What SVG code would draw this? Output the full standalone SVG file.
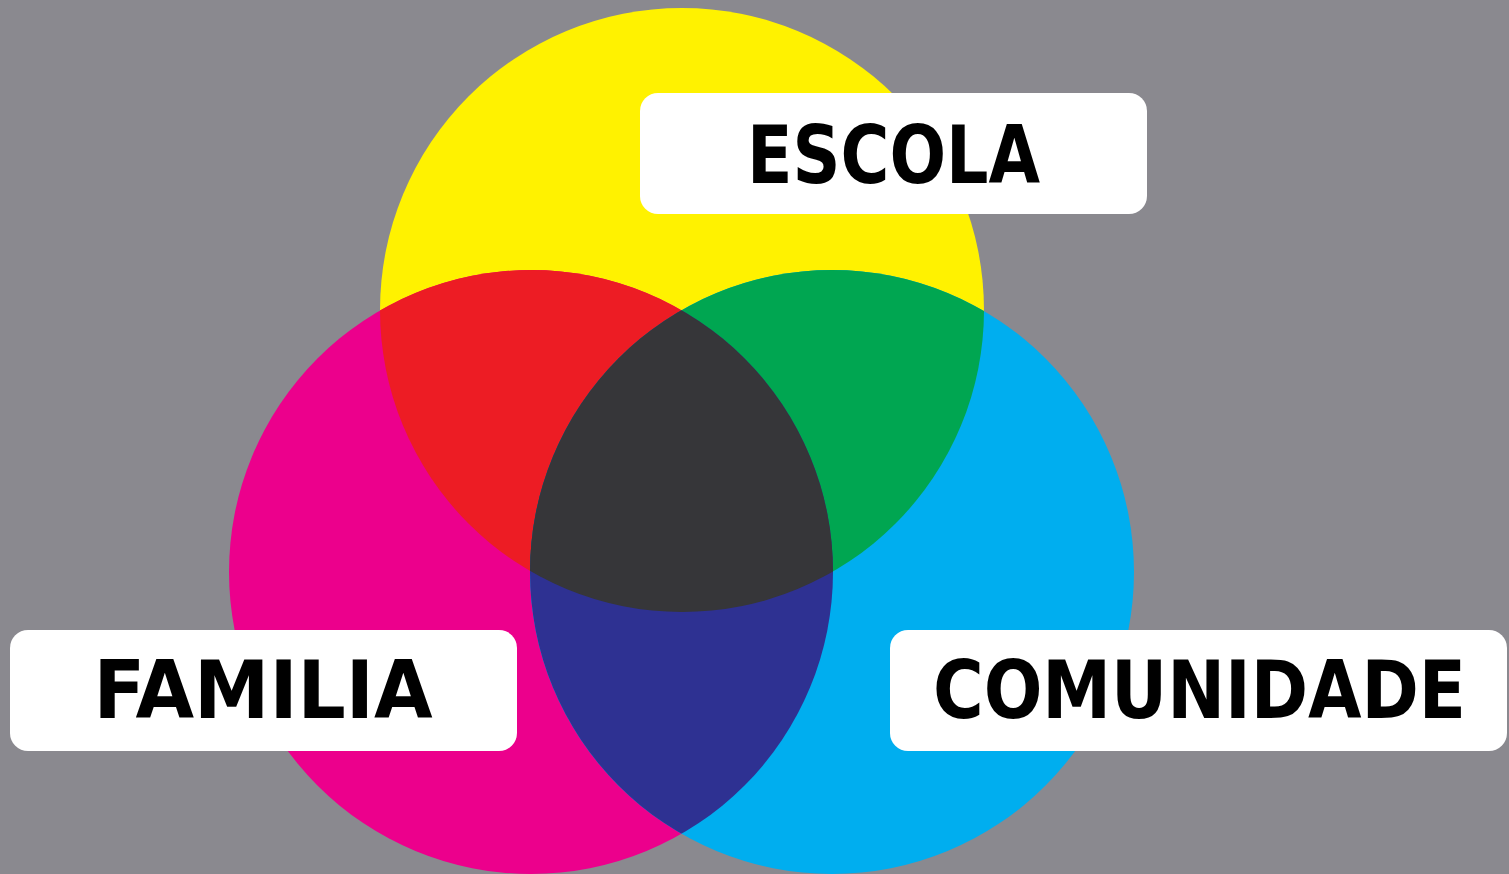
<svg xmlns="http://www.w3.org/2000/svg" width="1509" height="874" viewBox="0 0 1509 874">
  <style>
    .box { fill: #ffffff; }
    .lbl { font-family: "DejaVu Sans Condensed", "DejaVu Sans", sans-serif; font-weight: bold; font-size: 80px; fill: #000000; text-anchor: middle; }
  </style>
  <defs>
    <clipPath id="cY"><circle cx="682" cy="310" r="302"/></clipPath>
    <clipPath id="cM"><circle cx="531" cy="572" r="302"/></clipPath>
  </defs>
  <rect width="1509" height="874" fill="#8a898f"/>
  <g id="circles">
    <circle id="escola-circle" cx="682" cy="310" r="302" fill="#fff200"/>
    <circle id="familia-circle" cx="531" cy="572" r="302" fill="#ec008c"/>
    <circle id="comunidade-circle" cx="832" cy="572" r="302" fill="#00aeef"/>
    <g clip-path="url(#cY)">
      <circle cx="531" cy="572" r="302" fill="#ed1c24"/>
      <circle cx="832" cy="572" r="302" fill="#00a651"/>
    </g>
    <g clip-path="url(#cM)">
      <circle cx="832" cy="572" r="302" fill="#2e3192"/>
      <g clip-path="url(#cY)">
        <circle cx="832" cy="572" r="302" fill="#363639"/>
      </g>
    </g>
  </g>
  <g id="escola">
    <rect class="box" x="640" y="93" width="507" height="121" rx="18"/>
    <text class="lbl" x="893.5" y="183" textLength="293" lengthAdjust="spacingAndGlyphs">ESCOLA</text>
  </g>
  <g id="familia">
    <rect class="box" x="10" y="630" width="507" height="121" rx="18"/>
    <text class="lbl" x="263" y="718" textLength="339" lengthAdjust="spacingAndGlyphs">FAMILIA</text>
  </g>
  <g id="comunidade">
    <rect class="box" x="890" y="630" width="617" height="121" rx="18"/>
    <text class="lbl" x="1199.5" y="718" textLength="533" lengthAdjust="spacingAndGlyphs">COMUNIDADE</text>
  </g>
  <g id="connectors"/>
</svg>
